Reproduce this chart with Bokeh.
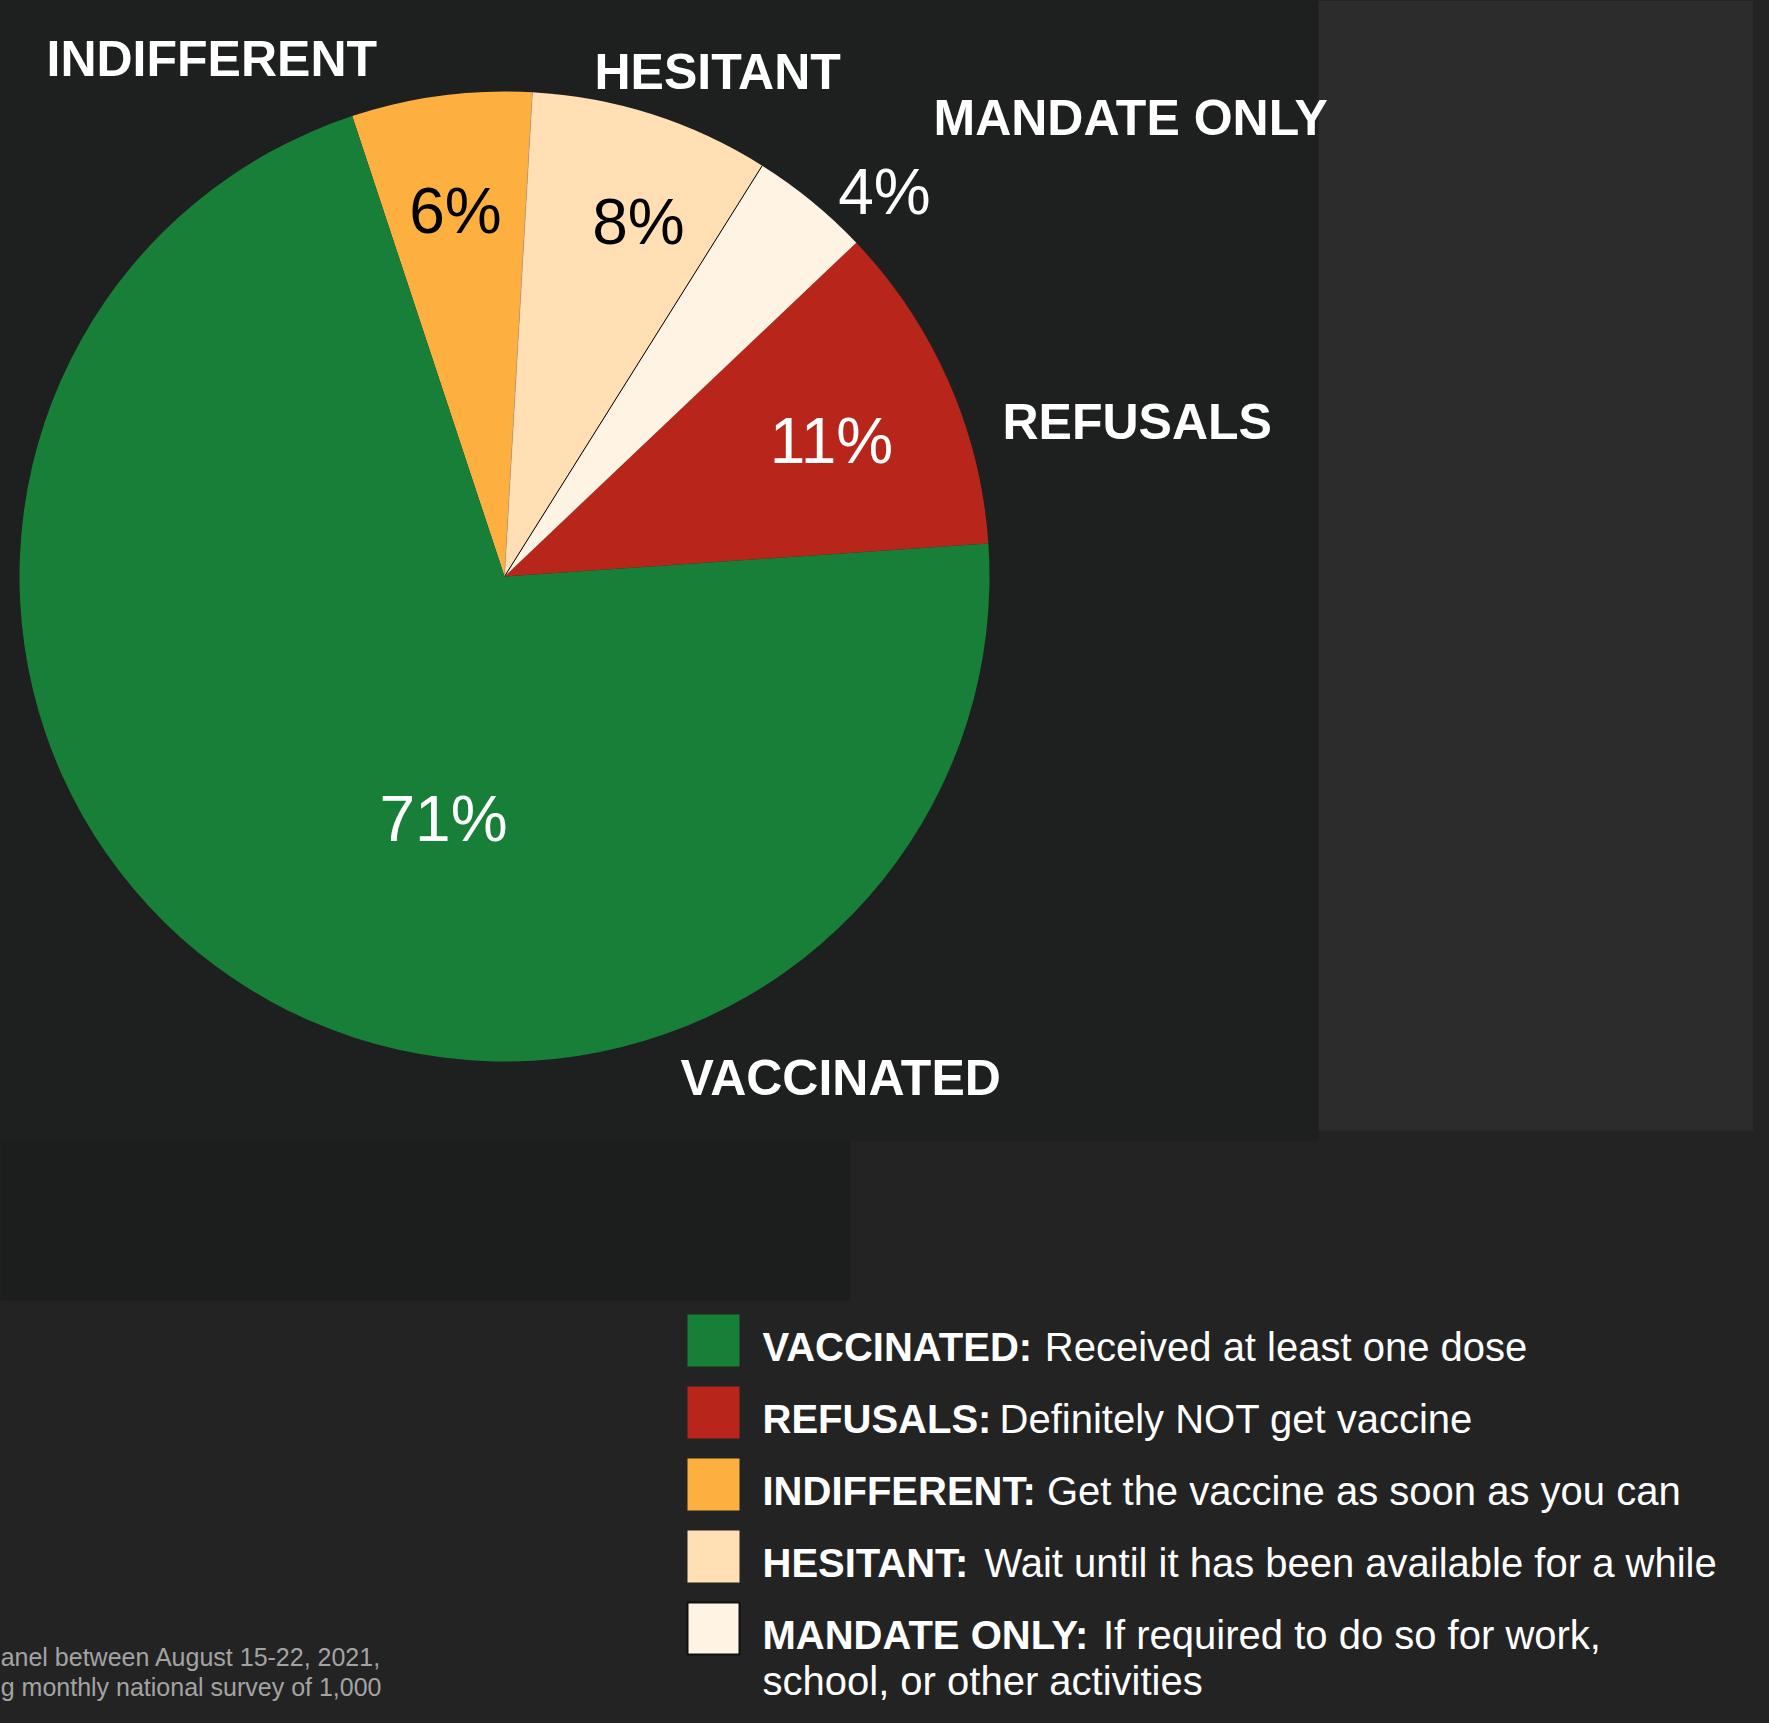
import math
from bokeh.plotting import figure
from bokeh.models import Range1d, ColumnDataSource, GlobalInlineStyleSheet
from bokeh.core.properties import value
from bokeh.embed import file_html
from bokeh.resources import INLINE

# ---------------- data ----------------
slice_names = ["REFUSALS", "MANDATE ONLY", "HESITANT", "INDIFFERENT", "VACCINATED"]
slice_values = [11, 4, 8, 6, 71]
slice_colors = ["#B8251B", "#FFF3E3", "#FFDFB3", "#FDB040", "#187F38"]
pct_colors = ["white", "white", "black", "black", "white"]

legend_names = ["VACCINATED:", "REFUSALS:", "INDIFFERENT:", "HESITANT:", "MANDATE ONLY:"]
legend_desc = ["Received at least one dose",
               "Definitely NOT get vaccine",
               "Get the vaccine as soon as you can",
               "Wait until it has been available for a while",
               "If required to do so for work,"]
legend_desc2 = "school, or other activities"
legend_colors = ["#187F38", "#B8251B", "#FDB040", "#FFDFB3", "#FFF3E3"]

footnote = ["anel between August 15-22, 2021,", "g monthly national survey of 1,000"]

# ---------------- layout (image pixel coords, y downward) ----------------
IMG_H = 1723
FIG_W, FIG_H = 1753, 1707
def Y(v):
    return IMG_H - v

CX, CY, R = 504, 576, 485
START_DEG = 3.9

# category name label anchors (left, baseline)
name_pos = {"INDIFFERENT": (46, 58), "HESITANT": (594, 71), "MANDATE ONLY": (933, 117),
            "REFUSALS": (1002, 421), "VACCINATED": (680, 1077)}
# percent label anchors (center, baseline)
pct_pos = {"REFUSALS": (831, 440), "MANDATE ONLY": (884, 191), "HESITANT": (638, 221),
           "INDIFFERENT": (455, 210), "VACCINATED": (443, 818)}

legend_x = 687
legend_sw = 52
legend_tops = [1314, 1386, 1458, 1530, 1602]
legend_text_x = 762
LEG_FS = 40

# approximate bold advance widths (per em) to place the regular text after the bold term
BOLD_W = {"A": .722, "C": .722, "D": .722, "E": .667, "F": .611, "H": .722, "I": .278,
          "L": .611, "M": .833, "N": .722, "O": .778, "R": .722, "S": .667, "T": .611,
          "U": .722, "V": .667, "Y": .667, ":": .333, " ": .278}
legend_desc_x = [legend_text_x + 0.97 * LEG_FS * sum(BOLD_W[c] for c in n) + 15 for n in legend_names]

p = figure(width=FIG_W, height=FIG_H, x_range=Range1d(0, FIG_W), y_range=Range1d(IMG_H - FIG_H, IMG_H),
           output_backend="svg", toolbar_location=None, min_border=0)
p.xaxis.visible = False
p.yaxis.visible = False
p.grid.visible = False
p.outline_line_color = None
p.background_fill_color = "#232323"
p.border_fill_color = "#232323"
p.stylesheets = [GlobalInlineStyleSheet(css="html, body { background-color: #232323; }")]

# background panels (decorative)
p.quad(left=[0, 1318, 0], right=[1318, 1769, 850],
       top=[Y(0), Y(0), Y(1140)],
       bottom=[Y(1140), Y(1130), Y(1300)],
       fill_color=["#1e1f1f", "#2c2c2c", "#1c1d1d"], line_color=None)

# ---------------- pie ----------------
total = float(sum(slice_values))
starts, ends = [], []
a = math.radians(START_DEG)
for v in slice_values:
    starts.append(a)
    a += v / total * 2 * math.pi
    ends.append(a)

src = ColumnDataSource(dict(start=starts, end=ends, color=slice_colors))
p.wedge(x=CX, y=Y(CY), radius=R, start_angle="start", end_angle="end",
        fill_color="color", line_color=None, source=src)

# thin separators
b1 = ends[1]  # mandate / hesitant
p.segment(x0=[CX], y0=[Y(CY)], x1=[CX + R * math.cos(b1)], y1=[Y(CY) + R * math.sin(b1)],
          line_color="#000000", line_width=1)
b2 = ends[2]  # hesitant / indifferent
p.segment(x0=[CX], y0=[Y(CY)], x1=[CX + R * math.cos(b2)], y1=[Y(CY) + R * math.sin(b2)],
          line_color="#b0a090", line_width=0.6)

# category names
p.text(x=[name_pos[n][0] for n in slice_names], y=[Y(name_pos[n][1]) for n in slice_names],
       text=slice_names, text_color="white", text_font=value("Liberation Sans"),
       text_font_style="bold", text_font_size="50px", text_baseline="alphabetic",
       text_align="left")

# percent labels
p.text(x=[pct_pos[n][0] for n in slice_names], y=[Y(pct_pos[n][1]) for n in slice_names],
       text=[f"{v}%" for v in slice_values], text_color=pct_colors,
       text_font=value("Liberation Sans"), text_font_size="64px",
       text_baseline="alphabetic", text_align="center")

# ---------------- legend ----------------
p.quad(left=[legend_x] * 5, right=[legend_x + legend_sw] * 5,
       top=[Y(t) for t in legend_tops], bottom=[Y(t + legend_sw) for t in legend_tops],
       fill_color=legend_colors, line_color=[None, None, None, None, "#111111"], line_width=2)
p.text(x=[legend_text_x] * 5, y=[Y(t + 32) for t in legend_tops], text=legend_names,
       text_color="white", text_font=value("Liberation Sans"), text_font_style="bold",
       text_font_size=f"{LEG_FS}px", text_baseline="alphabetic")
p.text(x=legend_desc_x, y=[Y(t + 32) for t in legend_tops], text=legend_desc,
       text_color="white", text_font=value("Liberation Sans"),
       text_font_size=f"{LEG_FS}px", text_baseline="alphabetic")
p.text(x=[legend_text_x], y=[Y(legend_tops[4] + 32 + 46)], text=[legend_desc2],
       text_color="white", text_font=value("Liberation Sans"),
       text_font_size=f"{LEG_FS}px", text_baseline="alphabetic")

# footnote (partially cut at left edge)
p.text(x=[381, 381], y=[Y(1656), Y(1686)], text=footnote, text_color="#a3a3a3",
       text_font=value("Liberation Sans"), text_font_size="25px",
       text_baseline="alphabetic", text_align="right")

open("out.html", "w").write(file_html(p, INLINE))
